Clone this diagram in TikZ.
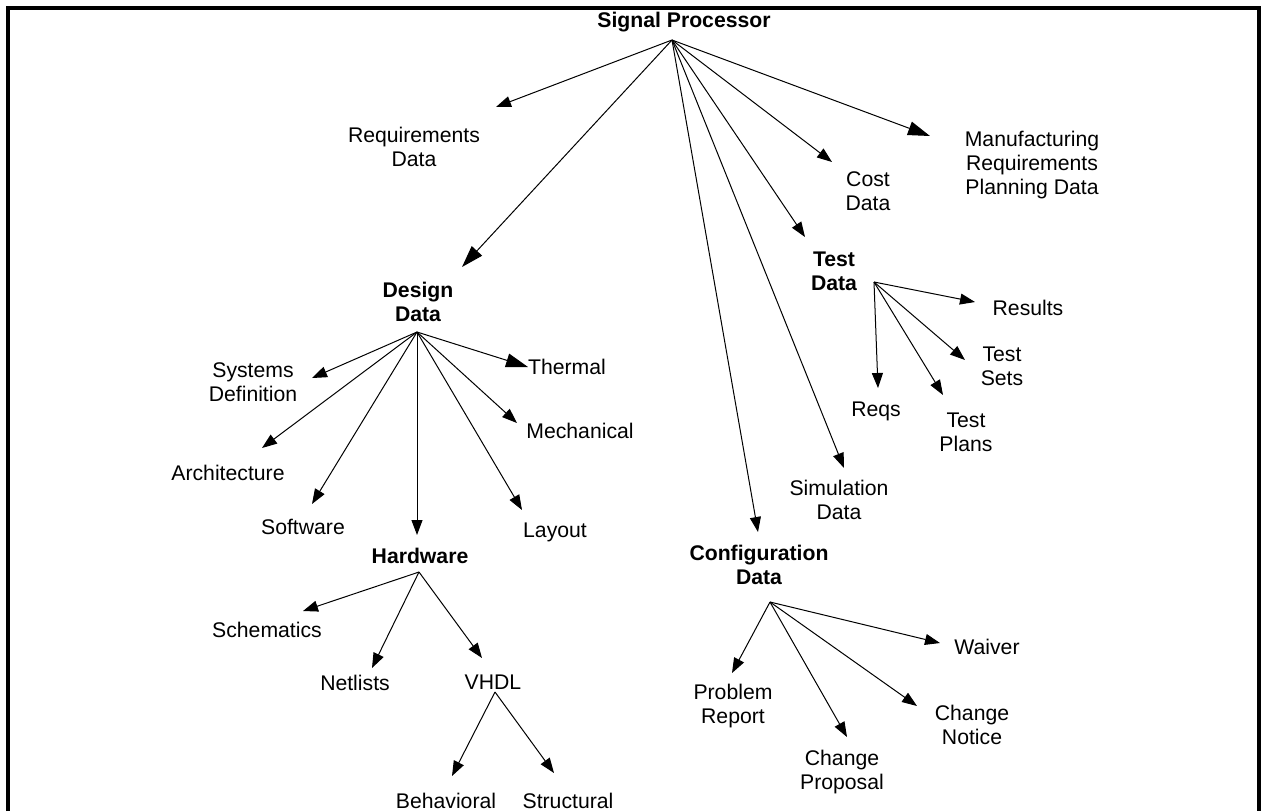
\documentclass[tikz,border=0pt]{standalone}
\usepackage{fontspec}
\setmainfont{Liberation Sans}
\usetikzlibrary{arrows.meta}
\begin{document}
\begin{tikzpicture}[x=0.5pt,y=-0.5pt,
  lbl/.style={inner sep=0pt, align=center, font=\fontsize{10.6}{11.8}\selectfont},
  head/.style={lbl, font=\fontsize{10.6}{11.8}\selectfont\bfseries},
  arr/.style={line width=0.5pt, -{Triangle[length=7.5pt,width=5.5pt]}},
  bigarr/.style={line width=0.5pt, -{Triangle[length=11pt,width=7pt]}},
  frame/.style={line width=1.8pt}]
\useasboundingbox (0,0) rectangle (1264,811);
% open frame (bottom edge runs off the page)
\draw[frame] (8,811) -- (8,8) -- (1259,8) -- (1259,811);

% ---- root ----
\node[head] (sp) at (684,22) {Signal Processor};
\coordinate (sp-r) at (672,40);

% ---- first level ----
\node[lbl] (req) at (414,147) {Requirements\\Data};
\coordinate (req-t) at (496,107);
\node[head] (des) at (418,302) {Design\\Data};
\coordinate (des-t) at (462,267);
\coordinate (des-r) at (417,332);
\node[head] (cfg) at (759,565) {Configuration\\Data};
\coordinate (cfg-t) at (758,532);
\coordinate (cfg-r) at (770,602);
\node[lbl] (sim) at (839,500) {Simulation\\Data};
\coordinate (sim-t) at (844,468);
\node[head] (tst) at (834,271) {Test\\Data};
\coordinate (tst-t) at (805,237);
\coordinate (tst-r) at (874,282);
\node[lbl] (cost) at (868,191) {Cost\\Data};
\coordinate (cost-t) at (832,162);
\node[lbl] (mfg) at (1032,165) {Manufacturing\\Requirements\\Planning Data};
\coordinate (mfg-t) at (930,136);

\draw[arr] (sp-r) -- (req-t);
\draw[bigarr] (sp-r) -- (des-t);
\draw[arr] (sp-r) -- (cfg-t);
\draw[arr] (sp-r) -- (sim-t);
\draw[arr] (sp-r) -- (tst-t);
\draw[arr] (sp-r) -- (cost-t);
\draw[bigarr] (sp-r) -- (mfg-t);

% ---- design data ----
\node[lbl] (sys) at (253,382) {Systems\\Definition};
\coordinate (sys-t) at (312,378);
\node[lbl] (arch) at (228,473) {Architecture};
\coordinate (arch-t) at (262,448);
\node[lbl] (sw) at (303,527) {Software};
\coordinate (sw-t) at (312,504);
\node[head] (hw) at (420,556) {Hardware};
\coordinate (hw-t) at (417,535);
\coordinate (hw-r) at (419,572);
\node[lbl] (lay) at (555,532) {Layout};
\coordinate (lay-t) at (522,510);
\node[lbl] (mech) at (580,431) {Mechanical};
\coordinate (mech-t) at (517,423);
\node[lbl] (therm) at (567,367) {Thermal};
\coordinate (therm-t) at (528,367);

\draw[arr] (des-r) -- (sys-t);
\draw[arr] (des-r) -- (arch-t);
\draw[arr] (des-r) -- (sw-t);
\draw[arr] (des-r) -- (hw-t);
\draw[arr] (des-r) -- (lay-t);
\draw[arr] (des-r) -- (mech-t);
\draw[bigarr] (des-r) -- (therm-t);

% ---- hardware ----
\node[lbl] (sch) at (267,630) {Schematics};
\coordinate (sch-t) at (303,611);
\node[lbl] (net) at (355,683) {Netlists};
\coordinate (net-t) at (372,668);
\node[lbl] (vhdl) at (493,682) {VHDL};
\coordinate (vhdl-t) at (482,658);
\coordinate (vhdl-r) at (495,692);

\draw[arr] (hw-r) -- (sch-t);
\draw[arr] (hw-r) -- (net-t);
\draw[arr] (hw-r) -- (vhdl-t);

% ---- VHDL ----
\node[lbl] (beh) at (446,801) {Behavioral};
\coordinate (beh-t) at (452,776);
\node[lbl] (str) at (568,801) {Structural};
\coordinate (str-t) at (554,773);

\draw[arr] (vhdl-r) -- (beh-t);
\draw[arr] (vhdl-r) -- (str-t);

% ---- test data ----
\node[lbl] (res) at (1028,308) {Results};
\coordinate (res-t) at (975,302);
\node[lbl] (tsets) at (1002,366) {Test\\Sets};
\coordinate (tsets-t) at (965,360);
\node[lbl] (tplans) at (966,432) {Test\\Plans};
\coordinate (tplans-t) at (943,395);
\node[lbl] (reqs) at (876,411) {Reqs};
\coordinate (reqs-t) at (878,388);

\draw[arr] (tst-r) -- (res-t);
\draw[arr] (tst-r) -- (tsets-t);
\draw[arr] (tst-r) -- (tplans-t);
\draw[arr] (tst-r) -- (reqs-t);

% ---- configuration data ----
\node[lbl] (prob) at (733,706) {Problem\\Report};
\coordinate (prob-t) at (732,673);
\node[lbl] (cprop) at (842,772) {Change\\Proposal};
\coordinate (cprop-t) at (847,737);
\node[lbl] (cnot) at (972,725) {Change\\Notice};
\coordinate (cnot-t) at (917,706);
\node[lbl] (waiv) at (987,647) {Waiver};
\coordinate (waiv-t) at (940,643);

\draw[arr] (cfg-r) -- (prob-t);
\draw[arr] (cfg-r) -- (cprop-t);
\draw[arr] (cfg-r) -- (cnot-t);
\draw[arr] (cfg-r) -- (waiv-t);
\end{tikzpicture}
\end{document}
